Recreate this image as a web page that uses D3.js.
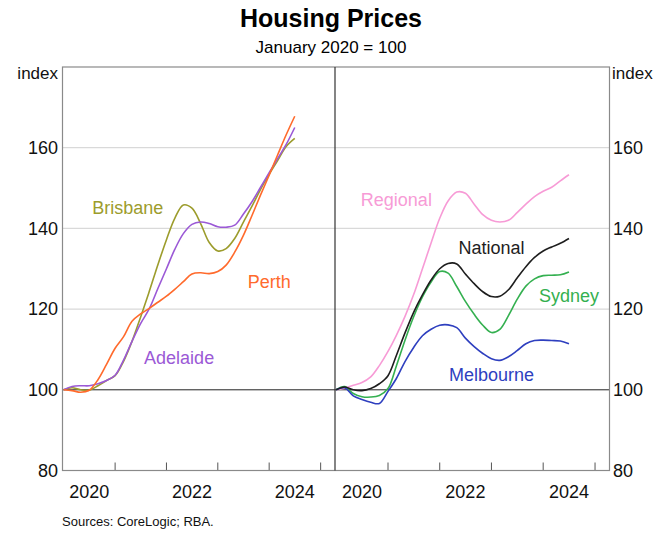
<!DOCTYPE html>
<html>
<head>
  <meta charset="UTF-8">
  <title>Housing Prices</title>
  <style>
    body { margin: 0; background: #fff; }
    text { font-family: "Liberation Sans", Arial, sans-serif; }
    .line { fill: none; stroke-width: 1.6px; }
  </style>
</head>
<body>
  <svg width="662" height="535" id="chart"></svg>
  <script src="https://d3js.org/d3.v7.min.js"></script>
  <script>
    // bi-monthly observations, Jan 2020 .. Jul 2024
    var months = ["2020-01", "2020-03", "2020-05", "2020-07", "2020-09", "2020-11",
      "2021-01", "2021-03", "2021-05", "2021-07", "2021-09", "2021-11",
      "2022-01", "2022-03", "2022-05", "2022-07", "2022-09", "2022-11",
      "2023-01", "2023-03", "2023-05", "2023-07", "2023-09", "2023-11",
      "2024-01", "2024-03", "2024-05", "2024-07"];

    var brisbane = [100, 100.5, 100.0, 99.9, 101.0, 102.3, 103.5, 107.0, 112.0, 118.0, 124.4, 131.0,
      137.2, 142.5, 145.8, 145.0, 141.2, 136.5, 134.4, 135.0, 137.5, 141.5, 145.5, 149.7,
      153.4, 156.8, 160.3, 162.3];
    var adelaide = [100, 100.8, 101.0, 101.0, 101.5, 102.3, 103.6, 107.3, 112.0, 116.4, 120.1, 125.1,
      130.0, 134.8, 138.7, 141.0, 141.6, 141.2, 140.4, 140.3, 140.8, 143.5, 146.6, 150.2,
      153.8, 157.3, 160.8, 165.0];
    var perth = [100, 99.8, 99.4, 99.9, 102.5, 106.3, 110.3, 113.1, 117.0, 118.8, 120.2, 121.7,
      123.2, 124.9, 126.8, 128.7, 129.0, 128.8, 129.3, 130.9, 134.1, 138.2, 143.2, 148.3,
      153.2, 158.2, 163.2, 167.8];

    var regional = [100, 100.4, 101.1, 101.8, 103.2, 106.0, 109.5, 113.5, 118.2, 123.6, 130.0, 136.4,
      142.5, 146.8, 149.0, 148.7, 146.0, 143.4, 142.0, 141.6, 142.0, 143.9, 146.0, 147.9,
      149.2, 150.2, 151.8, 153.3];
    var national = [100, 100.7, 100.0, 99.8, 100.3, 101.5, 103.5, 108.5, 114.1, 119.2, 123.5, 127.2,
      130.0, 131.3, 131.2, 128.7, 126.3, 124.3, 123.1, 123.2, 124.8, 127.7, 130.5, 132.8,
      134.4, 135.4, 136.3, 137.5];
    var sydney = [100, 100.8, 99.1, 98.3, 98.2, 98.6, 100.3, 105.9, 112.3, 118.1, 123.0, 126.7,
      129.3, 128.9, 125.6, 121.9, 118.7, 116.0, 114.2, 115.0, 118.4, 122.4, 125.7, 127.5,
      128.3, 128.4, 128.5, 129.2];
    var melbourne = [100, 100.5, 98.5, 97.6, 96.9, 96.6, 99.6, 102.8, 107.0, 110.5, 113.4, 115.0,
      116.0, 116.1, 115.4, 112.8, 110.7, 109.0, 107.7, 107.3, 108.2, 109.7, 111.4, 112.2,
      112.3, 112.2, 112.1, 111.4];

    var yTicks = [80, 100, 120, 140, 160];
    var yearLabels = ["2020", "2022", "2024"];

    var parseMonth = d3.timeParse("%Y-%m");
    var dates = months.map(parseMonth);

    var panels = [
      {
        series: [
          { name: "Brisbane", values: brisbane, color: "#9c9c2c", label: ["2021-04", 145.2] },
          { name: "Adelaide", values: adelaide, color: "#9b59d6", label: ["2022-04", 108.0] },
          { name: "Perth", values: perth, color: "#ff6a2c", label: ["2024-01", 126.9] }
        ]
      },
      {
        series: [
          { name: "Regional", values: regional, color: "#f79bd6", label: ["2021-03", 147.2] },
          { name: "Sydney", values: sydney, color: "#34b050", label: ["2024-07", 123.4] },
          { name: "Melbourne", values: melbourne, color: "#2e3fbf", label: ["2023-01", 103.8] },
          { name: "National", values: national, color: "#1e1e1e", label: ["2023-01", 135.1] }
        ]
      }
    ];

    var svg = d3.select("#chart");
    var plotTop = 67, plotBottom = 470.5;
    var edges = [62.5, 335, 609.5];

    var y = d3.scaleLinear().domain([80, 180]).range([plotBottom, plotTop]);

    // title
    svg.append("text").attr("x", 331).attr("y", 27).attr("text-anchor", "middle")
      .style("font-size", "25px").style("font-weight", "bold").text("Housing Prices");
    svg.append("text").attr("x", 331).attr("y", 53).attr("text-anchor", "middle")
      .style("font-size", "17px").text("January 2020 = 100");

    var line = d3.line()
      .curve(d3.curveCatmullRom.alpha(0.5))
      .x(function (d) { return d.x; })
      .y(function (d) { return d.y; });

    panels.forEach(function (p, i) {
      var x = d3.scaleTime()
        .domain([new Date(2019, 11, 24), new Date(2025, 3, 13)])
        .range([edges[i], edges[i + 1]]);
      var g = svg.append("g");

      // gridlines
      g.selectAll(".grid").data([120, 140, 160]).enter().append("line")
        .attr("x1", edges[i]).attr("x2", edges[i + 1])
        .attr("y1", function (d) { return y(d); }).attr("y2", function (d) { return y(d); })
        .attr("stroke", "#d9d9d9").attr("stroke-width", 1.3);

      // year ticks along bottom
      var yearTicks = x.ticks(d3.timeYear.every(1)).filter(function (d) {
        return x(d) > edges[i] + 2 && x(d) < edges[i + 1] - 2;
      });
      g.selectAll(".tick").data(yearTicks).enter().append("line")
        .attr("x1", function (d) { return x(d); }).attr("x2", function (d) { return x(d); })
        .attr("y1", plotBottom).attr("y2", plotBottom - 8)
        .attr("stroke", "#555").attr("stroke-width", 1);

      g.selectAll(".xlab").data(yearLabels).enter().append("text")
        .attr("x", function (d) { return x(new Date(+d, 6, 1)); })
        .attr("y", 498).attr("text-anchor", "middle")
        .style("font-size", "18px").attr("fill", "#111")
        .text(function (d) { return d; });

      // 100 baseline
      g.append("line").attr("x1", edges[i]).attr("x2", edges[i + 1])
        .attr("y1", y(100)).attr("y2", y(100))
        .attr("stroke", "#222").attr("stroke-width", 1);

      p.series.forEach(function (s) {
        var pts = dates.map(function (d, k) { return { x: x(d), y: y(s.values[k]) }; });
        g.append("path").attr("class", "line")
          .attr("stroke", s.color)
          .attr("d", line(pts));
        g.append("text")
          .attr("x", x(parseMonth(s.label[0])))
          .attr("y", y(s.label[1]))
          .attr("dy", "0.35em")
          .attr("text-anchor", "middle")
          .style("font-size", "18px")
          .attr("fill", s.color)
          .text(s.name);
      });
    });

    // frame and divider
    svg.append("rect").attr("x", edges[0]).attr("y", plotTop)
      .attr("width", edges[2] - edges[0]).attr("height", plotBottom - plotTop)
      .attr("fill", "none").attr("stroke", "#8a8a8a").attr("stroke-width", 1.2);
    svg.append("line").attr("x1", edges[1]).attr("x2", edges[1])
      .attr("y1", plotTop).attr("y2", plotBottom).attr("stroke", "#333").attr("stroke-width", 1.2);

    // y axis labels on both sides
    svg.selectAll(".yl").data(yTicks).enter().append("text")
      .attr("x", 58).attr("y", function (d) { return y(d); }).attr("dy", "0.35em")
      .attr("text-anchor", "end").style("font-size", "18px").attr("fill", "#111")
      .text(function (d) { return d; });
    svg.selectAll(".yr").data(yTicks).enter().append("text")
      .attr("x", 613).attr("y", function (d) { return y(d); }).attr("dy", "0.35em")
      .attr("text-anchor", "start").style("font-size", "18px").attr("fill", "#111")
      .text(function (d) { return d; });

    svg.append("text").attr("x", 58).attr("y", 79).attr("text-anchor", "end")
      .style("font-size", "17px").attr("fill", "#111").text("index");
    svg.append("text").attr("x", 612).attr("y", 79).attr("text-anchor", "start")
      .style("font-size", "17px").attr("fill", "#111").text("index");

    svg.append("text").attr("x", 62).attr("y", 526)
      .style("font-size", "13px").attr("fill", "#111").text("Sources: CoreLogic; RBA.");
  </script>
</body>
</html>
